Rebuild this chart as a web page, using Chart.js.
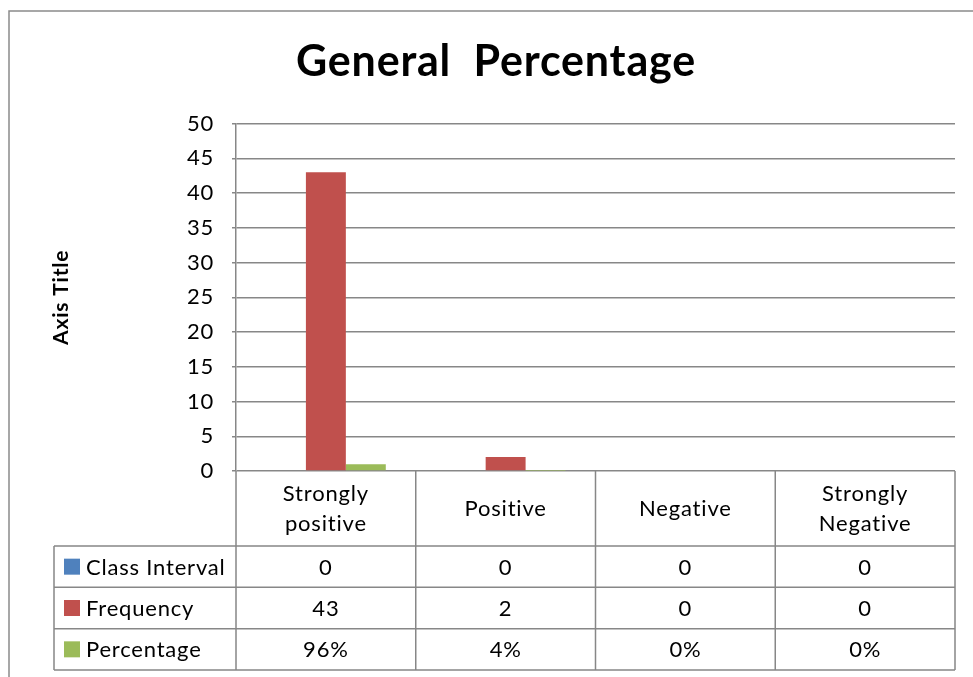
<!DOCTYPE html>
<html>
<head>
<meta charset="utf-8">
<script src="https://cdn.jsdelivr.net/npm/chart.js@4/dist/chart.umd.min.js"></script>
<style>
  html, body { margin: 0; padding: 0; background: #fff; }
  #wrap { width: 973px; height: 677px; position: relative; }
</style>
</head>
<body>
<div id="wrap"><canvas id="c"></canvas></div>
<script>
const categories = [["Strongly", "positive"], "Positive", "Negative", ["Strongly", "Negative"]];
const seriesNames = ["Class Interval", "Frequency", "Percentage"];
const classInterval = [0, 0, 0, 0];
const frequency = [43, 2, 0, 0];
const percentage = [0.96, 0.04, 0, 0];
const yTicks = [0, 5, 10, 15, 20, 25, 30, 35, 40, 45, 50];

const colors = ["#4F81BD", "#C0504D", "#9BBB59"];
const FONT = "Lato, 'Liberation Sans', sans-serif";
const GRID = "#878787";
const SPACING = "0.8px";
const PAD_LEFT = 37;

function fmt(seriesIndex, v) {
  if (seriesIndex === 2) return Math.round(v * 100) + "%";
  return String(v);
}

function setSpacing(chart) {
  if ("letterSpacing" in chart.ctx) chart.ctx.letterSpacing = SPACING;
}

const framePlugin = {
  id: "frame",
  beforeUpdate(chart) { setSpacing(chart); },
  beforeLayout(chart) { setSpacing(chart); },
  beforeDraw(chart) {
    setSpacing(chart);
    const ctx = chart.ctx;
    ctx.save();
    ctx.fillStyle = "#fff";
    ctx.fillRect(0, 0, chart.width, chart.height);
    ctx.strokeStyle = "#8a8a8a";
    ctx.lineWidth = 1.5;
    ctx.beginPath();
    ctx.moveTo(9, chart.height + 5);
    ctx.lineTo(9, 11);
    ctx.lineTo(chart.width + 5, 11);
    ctx.stroke();
    ctx.restore();
  }
};

const tablePlugin = {
  id: "dataTable",
  afterDraw(chart) {
    const ctx = chart.ctx;
    const xs = chart.scales.x;
    const area = chart.chartArea;
    const n = categories.length;
    const colW = (area.right - area.left) / n;
    const headTop = area.bottom;
    const headBottom = xs.bottom;
    const tableBottom = chart.height - 7;
    const rowH = (tableBottom - headBottom) / seriesNames.length;
    const labelLeft = 54;

    ctx.save();
    ctx.strokeStyle = GRID;
    ctx.lineWidth = 1.5;
    ctx.beginPath();
    for (let i = 0; i <= n; i++) {
      const x = (i === n) ? area.right : xs.getPixelForValue(i) - colW / 2;
      ctx.moveTo(x, headTop);
      ctx.lineTo(x, tableBottom);
    }
    ctx.moveTo(labelLeft, headBottom);
    ctx.lineTo(labelLeft, tableBottom);
    for (let r = 0; r <= seriesNames.length; r++) {
      const y = headBottom + r * rowH;
      ctx.moveTo(labelLeft, y);
      ctx.lineTo(area.right, y);
    }
    ctx.stroke();

    ctx.font = "22px " + FONT;
    ctx.fillStyle = "#000";
    ctx.textBaseline = "middle";
    const series = [classInterval, frequency, percentage];
    for (let r = 0; r < seriesNames.length; r++) {
      const cy = headBottom + r * rowH + rowH / 2;
      ctx.fillStyle = colors[r];
      ctx.fillRect(64, cy - 8, 16, 16);
      ctx.fillStyle = "#000";
      ctx.textAlign = "left";
      ctx.fillText(seriesNames[r], 86, cy + 1);
      ctx.textAlign = "center";
      for (let i = 0; i < n; i++) {
        ctx.fillText(fmt(r, series[r][i]), xs.getPixelForValue(i), cy + 1);
      }
    }
    ctx.restore();
  }
};

new Chart(document.getElementById("c"), {
  type: "bar",
  data: {
    labels: categories,
    datasets: [
      { label: seriesNames[0], data: classInterval, backgroundColor: colors[0] },
      { label: seriesNames[1], data: frequency, backgroundColor: colors[1] },
      { label: seriesNames[2], data: percentage, backgroundColor: colors[2] }
    ]
  },
  options: {
    responsive: true,
    maintainAspectRatio: false,
    animation: false,
    datasets: { bar: { categoryPercentage: 2 / 3, barPercentage: 1 } },
    layout: { padding: { left: PAD_LEFT, right: 18, top: 11, bottom: 131 } },
    plugins: {
      legend: { display: false },
      tooltip: { enabled: false },
      title: {
        display: true,
        text: "General  Percentage",
        color: "#000",
        font: { family: FONT, size: 43, weight: "bold", lineHeight: 1.2 },
        padding: { top: 25, bottom: 36 }
      }
    },
    scales: {
      x: {
        grid: { display: false, drawTicks: false },
        border: { display: false },
        ticks: {
          color: "#000",
          font: { family: FONT, size: 22, lineHeight: 30 / 22 },
          padding: 23,
          crossAlign: "center",
          maxRotation: 0,
          autoSkip: false
        },
        afterFit(scale) { scale.height = 75; }
      },
      y: {
        min: 0,
        max: 50,
        afterBuildTicks(scale) { scale.ticks = yTicks.map(v => ({ value: v })); },
        grid: { color: GRID, lineWidth: 1.5, drawTicks: true, tickLength: 4 },
        border: { display: true, color: GRID, width: 1.5 },
        ticks: {
          color: "#000",
          font: { family: FONT, size: 22 },
          padding: 18
        },
        title: {
          display: true,
          text: "Axis Title",
          color: "#000",
          font: { family: FONT, size: 21, weight: "bold", lineHeight: 1.2 },
          padding: { top: 12, bottom: 0 }
        },
        afterFit(scale) { scale.width = 236 - PAD_LEFT; }
      }
    }
  },
  plugins: [framePlugin, tablePlugin]
});
</script>
</body>
</html>
